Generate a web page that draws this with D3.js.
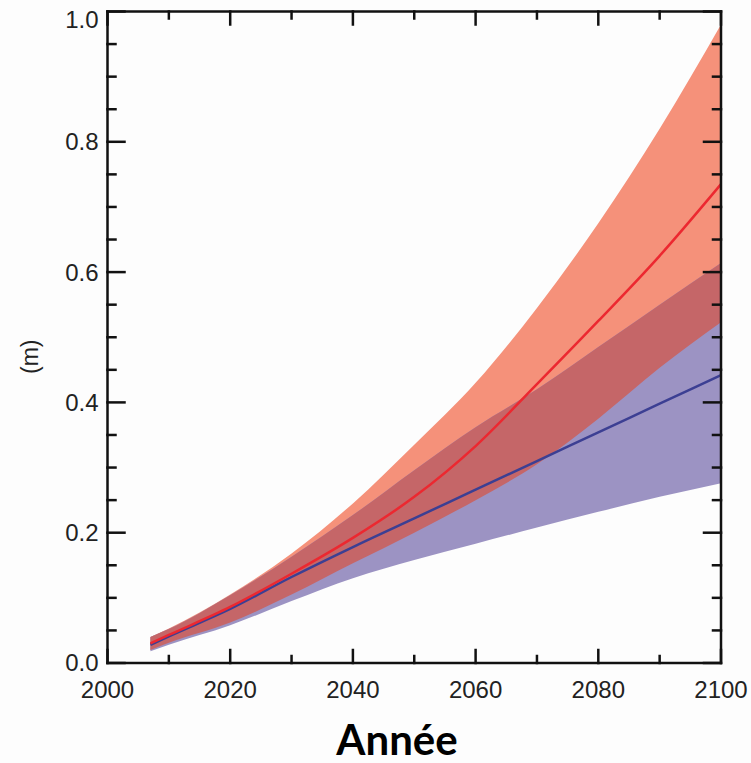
<!DOCTYPE html>
<html>
<head>
<meta charset="utf-8">
<script src="https://cdn.jsdelivr.net/npm/d3@7"></script>
<style>
  html, body { margin: 0; padding: 0; background: #fdfdfd; }
  svg { display: block; }
</style>
</head>
<body>
<svg id="chart" width="751" height="763"></svg>
<script>
// Projected sea-level rise (m): two scenarios, central estimate and likely range
const years      = [2007, 2010, 2020, 2030, 2040, 2050, 2060, 2070, 2080, 2090, 2100];
const redMid     = [0.030, 0.043, 0.086, 0.137, 0.192, 0.255, 0.333, 0.428, 0.525, 0.625, 0.735];
const redLow     = [0.020, 0.031, 0.062, 0.105, 0.153, 0.200, 0.250, 0.305, 0.375, 0.453, 0.523];
const redHigh    = [0.040, 0.053, 0.105, 0.168, 0.245, 0.335, 0.430, 0.545, 0.675, 0.820, 0.980];
const blueMid    = [0.028, 0.041, 0.083, 0.132, 0.178, 0.222, 0.266, 0.310, 0.354, 0.398, 0.442];
const blueLow    = [0.018, 0.028, 0.058, 0.095, 0.130, 0.158, 0.183, 0.208, 0.232, 0.255, 0.276];
const blueHigh   = [0.040, 0.052, 0.104, 0.163, 0.227, 0.296, 0.362, 0.420, 0.485, 0.550, 0.614];

const xTicks = [2000, 2020, 2040, 2060, 2080, 2100];
const yTicks = [0.0, 0.2, 0.4, 0.6, 0.8, 1.0];
const yLabel = "(m)";
const xTitle = "Année";

const svg = d3.select("#chart");
const pLeft = 107.5, pRight = 721, pTop = 11.5, pBottom = 663;

const x = d3.scaleLinear().domain([2000, 2100]).range([pLeft, pRight]);
const y = d3.scaleLinear().domain([0, 1]).range([pBottom, pTop]);

const rows = years.map((yr, i) => ({
  yr, rm: redMid[i], rl: redLow[i], rh: redHigh[i],
  bm: blueMid[i], bl: blueLow[i], bh: blueHigh[i]
}));

const curve = d3.curveMonotoneX;
const band = (lo, hi) => d3.area().curve(curve)
  .x(d => x(d.yr)).y0(d => y(lo(d))).y1(d => y(hi(d)));
const line = acc => d3.line().curve(curve).x(d => x(d.yr)).y(d => y(acc(d)));

const g = svg.append("g");

// ranges
g.append("path").datum(rows).attr("fill", "#f5917a")
  .attr("d", band(d => d.rl, d => d.rh));
g.append("path").datum(rows).attr("fill", "#9c93c3")
  .attr("d", band(d => d.bl, d => d.bh));
// overlap of the two ranges
g.append("path").datum(rows).attr("fill", "#c56668")
  .attr("d", band(d => Math.max(d.rl, d.bl), d => Math.min(d.rh, d.bh)));

// central estimates
g.append("path").datum(rows).attr("fill", "none").attr("stroke", "#3c3f93")
  .attr("stroke-width", 2.5).attr("d", line(d => d.bm));
g.append("path").datum(rows).attr("fill", "none").attr("stroke", "#ec2830")
  .attr("stroke-width", 2.5).attr("d", line(d => d.rm));

// frame
const axes = svg.append("g").attr("stroke", "#111").attr("stroke-linecap", "square");
axes.append("rect").attr("x", pLeft).attr("y", pTop)
  .attr("width", pRight - pLeft).attr("height", pBottom - pTop)
  .attr("fill", "none").attr("stroke-width", 2.5);

// inward ticks on all four sides
const xMinor = d3.range(2000, 2101, 10);
const yMinor = d3.range(0, 1.0001, 0.05);
const isMajorX = v => v % 20 === 0;
const isMajorY = v => Math.abs(Math.round(v * 5) - v * 5) < 1e-6;

xMinor.forEach(v => {
  const len = isMajorX(v) ? 13 : 7;
  axes.append("line").attr("x1", x(v)).attr("x2", x(v))
    .attr("y1", pBottom).attr("y2", pBottom - len).attr("stroke-width", 2.5);
  axes.append("line").attr("x1", x(v)).attr("x2", x(v))
    .attr("y1", pTop).attr("y2", pTop + len).attr("stroke-width", 2.5);
});
yMinor.forEach(v => {
  const len = isMajorY(v) ? 17 : 8;
  axes.append("line").attr("x1", pLeft).attr("x2", pLeft + len)
    .attr("y1", y(v)).attr("y2", y(v)).attr("stroke-width", 2.5);
  axes.append("line").attr("x1", pRight).attr("x2", pRight - len)
    .attr("y1", y(v)).attr("y2", y(v)).attr("stroke-width", 2.5);
});

// tick labels
const font = "'Liberation Sans', Arial, Helvetica, sans-serif";
svg.append("g").selectAll("text").data(yTicks).join("text")
  .attr("x", pLeft - 9)
  .attr("y", d => y(d) + (d === 1 ? 8 : 0))
  .attr("dy", "0.35em")
  .attr("text-anchor", "end")
  .attr("font-family", font).attr("font-size", 24).attr("fill", "#222")
  .text(d3.format(".1f"));

svg.append("g").selectAll("text").data(xTicks).join("text")
  .attr("x", d => x(d))
  .attr("y", pBottom + 35)
  .attr("text-anchor", "middle")
  .attr("font-family", font).attr("font-size", 24).attr("fill", "#222")
  .text(d => d);

// axis titles
svg.append("text")
  .attr("transform", `translate(38, ${y(0.47)}) rotate(-90)`)
  .attr("text-anchor", "middle")
  .attr("font-family", font).attr("font-size", 23).attr("fill", "#222")
  .text(yLabel);

svg.append("text")
  .attr("x", 397).attr("y", 755)
  .attr("text-anchor", "middle")
  .attr("font-family", "Lato, 'Open Sans', sans-serif")
  .attr("font-weight", "bold").attr("font-size", 42).attr("fill", "#000")
  .text(xTitle);
</script>
</body>
</html>
